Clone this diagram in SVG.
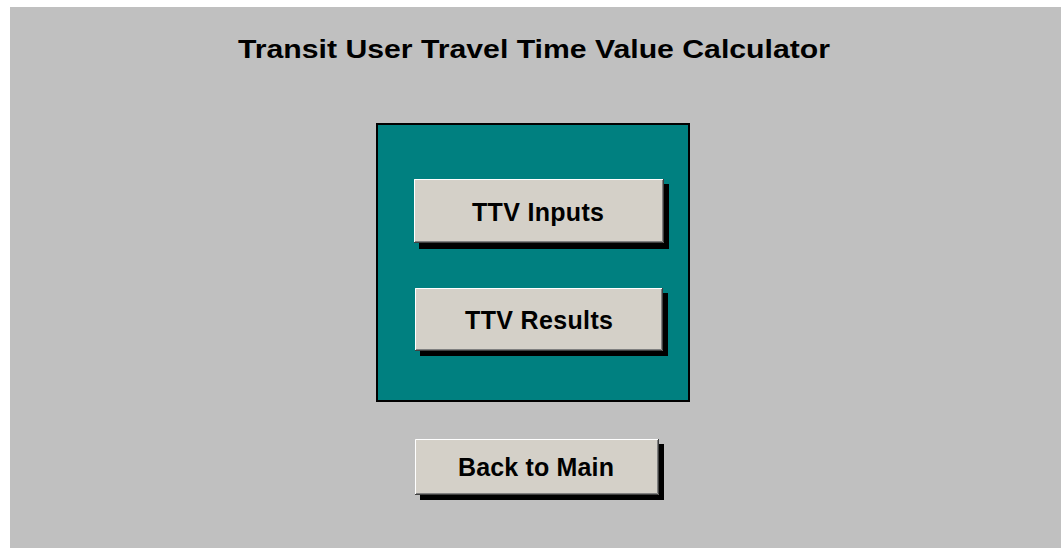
<svg xmlns="http://www.w3.org/2000/svg" width="1061" height="548" viewBox="0 0 1061 548">
  <style>
    .title { font-family: "Liberation Sans", Arial, sans-serif; font-weight: bold; font-size: 25px; fill: #000; }
    .label { font-family: "Liberation Sans", Arial, sans-serif; font-weight: bold; font-size: 25px; fill: #000; }
    .shadow { fill: #000; }
    .face { fill: #d4d0c8; }
    .hi { fill: none; stroke: #ffffff; stroke-width: 1; }
    .lo1 { fill: none; stroke: #404040; stroke-width: 1; }
    .lo2 { fill: none; stroke: #808080; stroke-width: 1; }
  </style>
  <!-- sheet background -->
  <rect x="0" y="0" width="1061" height="548" fill="#ffffff"/>
  <rect x="10" y="7" width="1051" height="541" fill="#c0c0c0"/>

  <text class="title" x="238" y="58" textLength="592" lengthAdjust="spacingAndGlyphs">Transit User Travel Time Value Calculator</text>

  <!-- teal panel -->
  <g id="panel">
    <rect x="377" y="124" width="312" height="277" fill="#008080" stroke="#000" stroke-width="2"/>
  </g>

  <g id="btn-inputs">
    <rect class="shadow" x="419" y="184" width="250" height="65"/>
    <rect class="face" x="414" y="179" width="250" height="64"/>
    <path class="lo1" d="M414,242.5 H663.5 V179"/>
    <path class="lo2" d="M415,241.5 H662.5 V180"/>
    <path class="hi" d="M414.5,242 V179.5 H663"/>
    <text class="label" x="472" y="221" textLength="132" lengthAdjust="spacing">TTV Inputs</text>
  </g>

  <g id="btn-results">
    <rect class="shadow" x="420" y="293" width="248" height="63"/>
    <rect class="face" x="415" y="288" width="248" height="63"/>
    <path class="lo1" d="M415,350.5 H662.5 V288"/>
    <path class="lo2" d="M416,349.5 H661.5 V289"/>
    <path class="hi" d="M415.5,350 V288.5 H662"/>
    <text class="label" x="465" y="329" textLength="148" lengthAdjust="spacing">TTV Results</text>
  </g>

  <g id="btn-back">
    <rect class="shadow" x="420" y="444" width="244" height="56"/>
    <rect class="face" x="415" y="439" width="244" height="56"/>
    <path class="lo1" d="M415,494.5 H658.5 V439"/>
    <path class="lo2" d="M416,493.5 H657.5 V440"/>
    <path class="hi" d="M415.5,494 V439.5 H658"/>
    <text class="label" x="458" y="476" textLength="156" lengthAdjust="spacing">Back to Main</text>
  </g>
</svg>
